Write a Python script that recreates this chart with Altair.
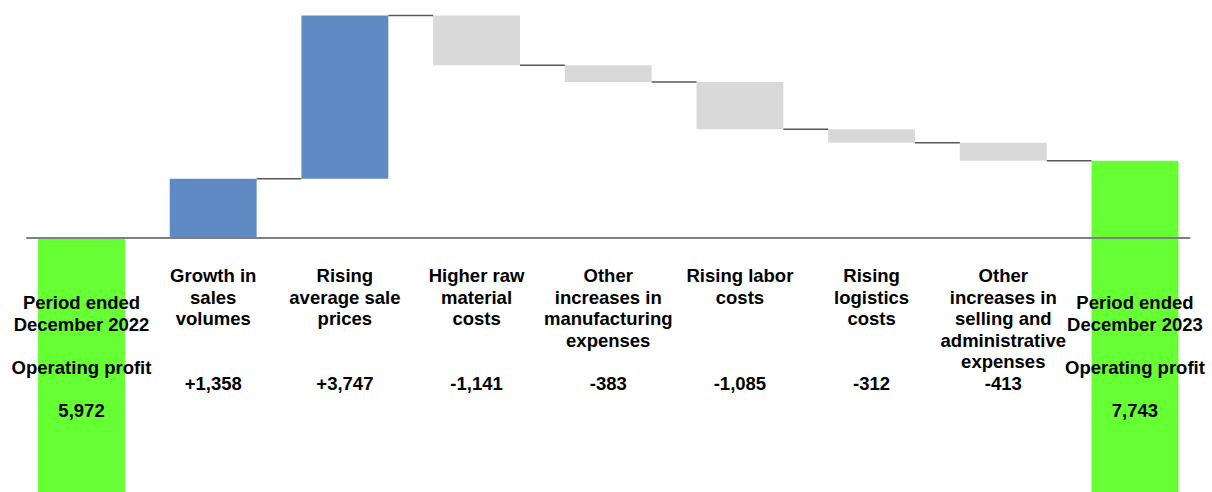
import altair as alt
import pandas as pd

categories = [
    "Period ended\nDecember 2022",
    "Growth in\nsales\nvolumes",
    "Rising\naverage sale\nprices",
    "Higher raw\nmaterial\ncosts",
    "Other\nincreases in\nmanufacturing\nexpenses",
    "Rising labor\ncosts",
    "Rising\nlogistics\ncosts",
    "Other\nincreases in\nselling and\nadministrative\nexpenses",
    "Period ended\nDecember 2023",
]
changes = [5972, 1358, 3747, -1141, -383, -1085, -312, -413, 7743]
kinds = ["total", "up", "up", "down", "down", "down", "down", "down", "total"]
total_caption = "Operating profit"

rows = []
level = 0
for i, (c, v, k) in enumerate(zip(categories, changes, kinds)):
    if k == "total":
        start, end = 0, v
        vtext = f"{v:,}"
    else:
        start, end = level, level + v
        vtext = f"{v:+,}"
    level = end
    rows.append(dict(idx=i, label=c, kind=k, start=start, end=end,
                     vtext=vtext, caption=total_caption))
df = pd.DataFrame(rows)

xs = alt.Scale(domain=[-0.619, 8.585], nice=False, zero=False)
ys = alt.Scale(domain=[142, 11434], nice=False, zero=False)

base = alt.Chart(df)

bars = base.mark_bar(clip=True).transform_calculate(
    x0="datum.idx - 0.33", x1="datum.idx + 0.33"
).encode(
    x=alt.X("x0:Q", scale=xs, axis=None),
    x2="x1:Q",
    y=alt.Y("start:Q", scale=ys, axis=None),
    y2="end:Q",
    color=alt.Color("kind:N", scale=alt.Scale(domain=["total", "up", "down"],
                                              range=["#66ff33", "#5f8ac4", "#d9d9d9"]),
                    legend=None),
)

connectors = base.transform_filter("datum.idx < 8").transform_calculate(
    c0="datum.idx + 0.33", c1="datum.idx + 0.67"
).mark_rule(color="#595959", strokeWidth=1.5).encode(
    x=alt.X("c0:Q", scale=xs, axis=None), x2="c1:Q",
    y=alt.Y("end:Q", scale=ys, axis=None),
)

axis_line = base.transform_filter("datum.idx == 0").transform_calculate(
    a0="-0.42", a1="8.42"
).mark_rule(color="#7f7f7f", strokeWidth=2).encode(
    x=alt.X("a0:Q", scale=xs, axis=None), x2="a1:Q",
    y=alt.Y("end:Q", scale=ys, axis=None),
)

text_style = dict(font="Liberation Sans", fontWeight="bold", fontSize=18.5,
                  lineBreak="\n", lineHeight=21.5, align="center",
                  baseline="alphabetic", color="#000000")

changes_only = base.transform_filter("datum.kind != 'total'")
totals_only = base.transform_filter("datum.kind == 'total'")
xe = alt.X("idx:Q", scale=xs, axis=None)

cat_text = changes_only.mark_text(**text_style).encode(x=xe, y=alt.value(282), text="label:N")
val_text = changes_only.mark_text(**text_style).encode(x=xe, y=alt.value(390), text="vtext:N")
tot_label = totals_only.mark_text(**text_style).encode(x=xe, y=alt.value(309.4), text="label:N")
tot_cap = totals_only.mark_text(**text_style).encode(x=xe, y=alt.value(374), text="caption:N")
tot_val = totals_only.mark_text(**text_style).encode(x=xe, y=alt.value(417.4), text="vtext:N")

chart = alt.layer(bars, connectors, axis_line, cat_text, val_text,
                  tot_label, tot_cap, tot_val).properties(
    width=1212, height=492,
    autosize=alt.AutoSizeParams(type="none"),
    padding=0,
).configure_view(stroke=None)

chart.save("out.html", embed_options={"renderer": "svg", "actions": False})
